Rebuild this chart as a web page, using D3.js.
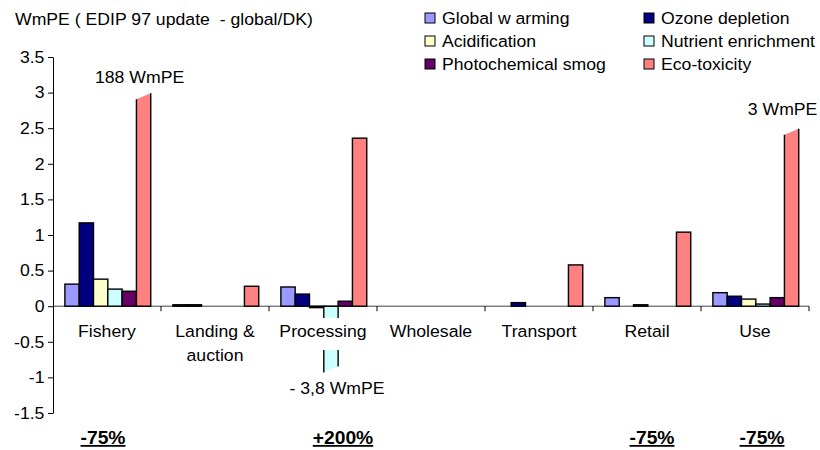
<!DOCTYPE html>
<html>
<head>
<meta charset="utf-8">
<script src="https://cdn.jsdelivr.net/npm/d3@7"></script>
<style>
  body { margin: 0; background: #fff; }
  text { font-family: "Liberation Sans", Arial, sans-serif; fill: #000; white-space: pre; }
</style>
</head>
<body>
<div class="chart"></div>
<script>
// Data
var categories = ["Fishery", "Landing & auction", "Processing", "Wholesale", "Transport", "Retail", "Use"];
var categoryLines = [["Fishery"], ["Landing &", "auction"], ["Processing"], ["Wholesale"], ["Transport"], ["Retail"], ["Use"]];
var seriesNames = ["Global w arming", "Ozone depletion", "Acidification", "Nutrient enrichment", "Photochemical smog", "Eco-toxicity"];

var globalWarming = [0.31, 0.02, 0.27, 0, 0, 0.12, 0.19];
var ozoneDepletion = [1.17, 0.02, 0.17, 0, 0.05, 0, 0.14];
var acidification = [0.38, 0, -0.02, 0, 0, 0.02, 0.10];
var nutrientEnrichment = [0.24, 0, -0.89, 0, 0, 0, 0.03];
var photochemicalSmog = [0.21, 0, 0.07, 0, 0, 0, 0.12];
var ecoToxicity = [2.95, 0.28, 2.36, 0, 0.58, 1.04, 2.45];

var yTicks = [-1.5, -1, -0.5, 0, 0.5, 1, 1.5, 2, 2.5, 3, 3.5];

// bars cut off in the original, with their real value as text
var brokenCategory = ["Fishery", "Processing", "Use"];
var brokenSeries = [5, 3, 5];
var brokenLabel = ["188 WmPE", "- 3,8 WmPE", "3 WmPE"];

var changeLabels = ["-75%", "", "+200%", "", "", "-75%", "-75%"];

var seriesValues = [globalWarming, ozoneDepletion, acidification, nutrientEnrichment, photochemicalSmog, ecoToxicity];
var colors = ["#9999ff", "#000080", "#ffffcc", "#ccffff", "#660066", "#ff8080"];

var svgWidth = 820, svgHeight = 450;
var sx = 1.07; // text in the picture is a bit wide
var fontSize = "16.5px";

var svg = d3.select(".chart").append("svg")
  .attr("width", svgWidth)
  .attr("height", svgHeight);

function addText(parent, x, y, str, anchor, size) {
  return parent.append("text")
    .attr("transform", "translate(" + x + "," + y + ") scale(" + sx + ",1)")
    .attr("text-anchor", anchor || "start")
    .style("font-size", size || fontSize)
    .text(str);
}

// Scales
var x0 = d3.scaleBand().domain(categories).range([53, 809]);
var bw = x0.bandwidth();
var x1 = d3.scaleBand().domain(d3.range(seriesNames.length)).range([bw * 0.11, bw * 0.905]);
var y = d3.scaleLinear().domain([-1.5, 3.5]).range([413, 57]);

// Title
addText(svg, 15, 25, "WmPE ( EDIP 97 update  - global/DK)");

// Legend
var legend = svg.append("g");
seriesNames.forEach(function(name, i) {
  var col = i % 2, row = Math.floor(i / 2);
  var lx = col === 0 ? 425 : 644;
  var ly = 18 + row * 23;
  legend.append("rect")
    .attr("x", lx).attr("y", ly - 5)
    .attr("width", 10).attr("height", 10)
    .attr("fill", colors[i])
    .attr("stroke", "#000").attr("stroke-width", 1);
  addText(legend, lx + 17, ly + 6, name);
});

var chart = svg.append("g");

// Zero line and category ticks
chart.append("line")
  .attr("x1", 53).attr("x2", 809)
  .attr("y1", y(0)).attr("y2", y(0))
  .attr("stroke", "#444").attr("stroke-width", 1);

chart.selectAll(".catTick")
  .data(categories.slice(1).map(function(c) { return x0(c); }).concat([x0.range()[1]]))
  .enter().append("line")
  .attr("class", "catTick")
  .attr("x1", function(d) { return d; }).attr("x2", function(d) { return d; })
  .attr("y1", y(0)).attr("y2", y(0) + 5)
  .attr("stroke", "#000");

// Bars
function isBroken(ci, si) {
  for (var k = 0; k < brokenCategory.length; k++) {
    if (brokenCategory[k] === categories[ci] && brokenSeries[k] === si) return true;
  }
  return false;
}

var barData = [];
categories.forEach(function(c, ci) {
  seriesValues.forEach(function(vals, si) {
    if (vals[ci] !== 0) barData.push({ cat: c, ci: ci, si: si, value: vals[ci] });
  });
});

var bars = chart.append("g");
bars.selectAll("rect")
  .data(barData.filter(function(d) { return !isBroken(d.ci, d.si); }))
  .enter().append("rect")
  .attr("x", function(d) { return x0(d.cat) + x1(d.si); })
  .attr("y", function(d) { return y(Math.max(d.value, 0)); })
  .attr("width", x1.bandwidth())
  .attr("height", function(d) { return Math.abs(y(d.value) - y(0)); })
  .attr("fill", function(d) { return colors[d.si]; })
  .attr("stroke", "#000")
  .attr("stroke-width", 1.4);

// broken bars: slanted end, no stroke on the cut
barData.filter(function(d) { return isBroken(d.ci, d.si); }).forEach(function(d) {
  var xl = x0(d.cat) + x1(d.si), xr = xl + x1.bandwidth();
  var yv = y(d.value), yz = y(0);
  bars.append("path")
    .attr("d", "M" + xl + "," + yz + "L" + xl + "," + (yv + 3) + "L" + xr + "," + (yv - 3) + "L" + xr + "," + yz + "Z")
    .attr("fill", colors[d.si]);
  bars.append("path")
    .attr("d", "M" + xl + "," + (yv + 3) + "L" + xl + "," + yz + "L" + xr + "," + yz + "L" + xr + "," + (yv - 3))
    .attr("fill", "none")
    .attr("stroke", "#000")
    .attr("stroke-width", 1.4);
});

// Y axis
var leftAxis = d3.axisLeft(y)
  .tickValues(yTicks)
  .tickSize(5)
  .tickSizeOuter(0)
  .tickFormat(function(d) { return String(d); });

var yAxis = svg.append("g")
  .attr("transform", "translate(53,0)")
  .call(leftAxis);
yAxis.select(".domain").attr("stroke", "#000");
yAxis.selectAll(".tick line").attr("stroke", "#000");
yAxis.selectAll(".tick text")
  .attr("transform", "scale(" + sx + ",1)")
  .style("font-size", fontSize);
yAxis.attr("font-family", null).attr("font-size", null);

// Category labels, each in a white box (it hides the long negative bar)
categoryLines.forEach(function(lines, i) {
  var cx = x0(categories[i]) + bw / 2;
  var g = svg.append("g");
  var texts = lines.map(function(line, j) {
    return addText(g, cx, 337 + j * 24, line, "middle");
  });
  var b = texts[0].node().getBBox();
  g.insert("rect", "text")
    .attr("x", cx + b.x * sx - 1).attr("y", 318)
    .attr("width", b.width * sx + 2).attr("height", 32)
    .attr("fill", "#fff");
});

// Labels on broken bars
var brokenDx = [-4, 6, -9];
var brokenDy = [-13, 24, -17];
brokenCategory.forEach(function(c, k) {
  var ci = categories.indexOf(c);
  var v = seriesValues[brokenSeries[k]][ci];
  var cx = x0(c) + x1(brokenSeries[k]) + x1.bandwidth() / 2;
  addText(svg, cx + brokenDx[k], y(v) + brokenDy[k], brokenLabel[k], "middle");
});

// Change percentages under the chart
var changeDx = [-4, 20, 5, 7];
var n = 0;
changeLabels.forEach(function(lbl, i) {
  if (!lbl) return;
  var cx = x0(categories[i]) + bw / 2 + changeDx[n++];
  addText(svg, cx, 444, lbl, "middle", "18px")
    .style("font-weight", "bold")
    .style("text-decoration", "underline");
});
</script>
</body>
</html>
